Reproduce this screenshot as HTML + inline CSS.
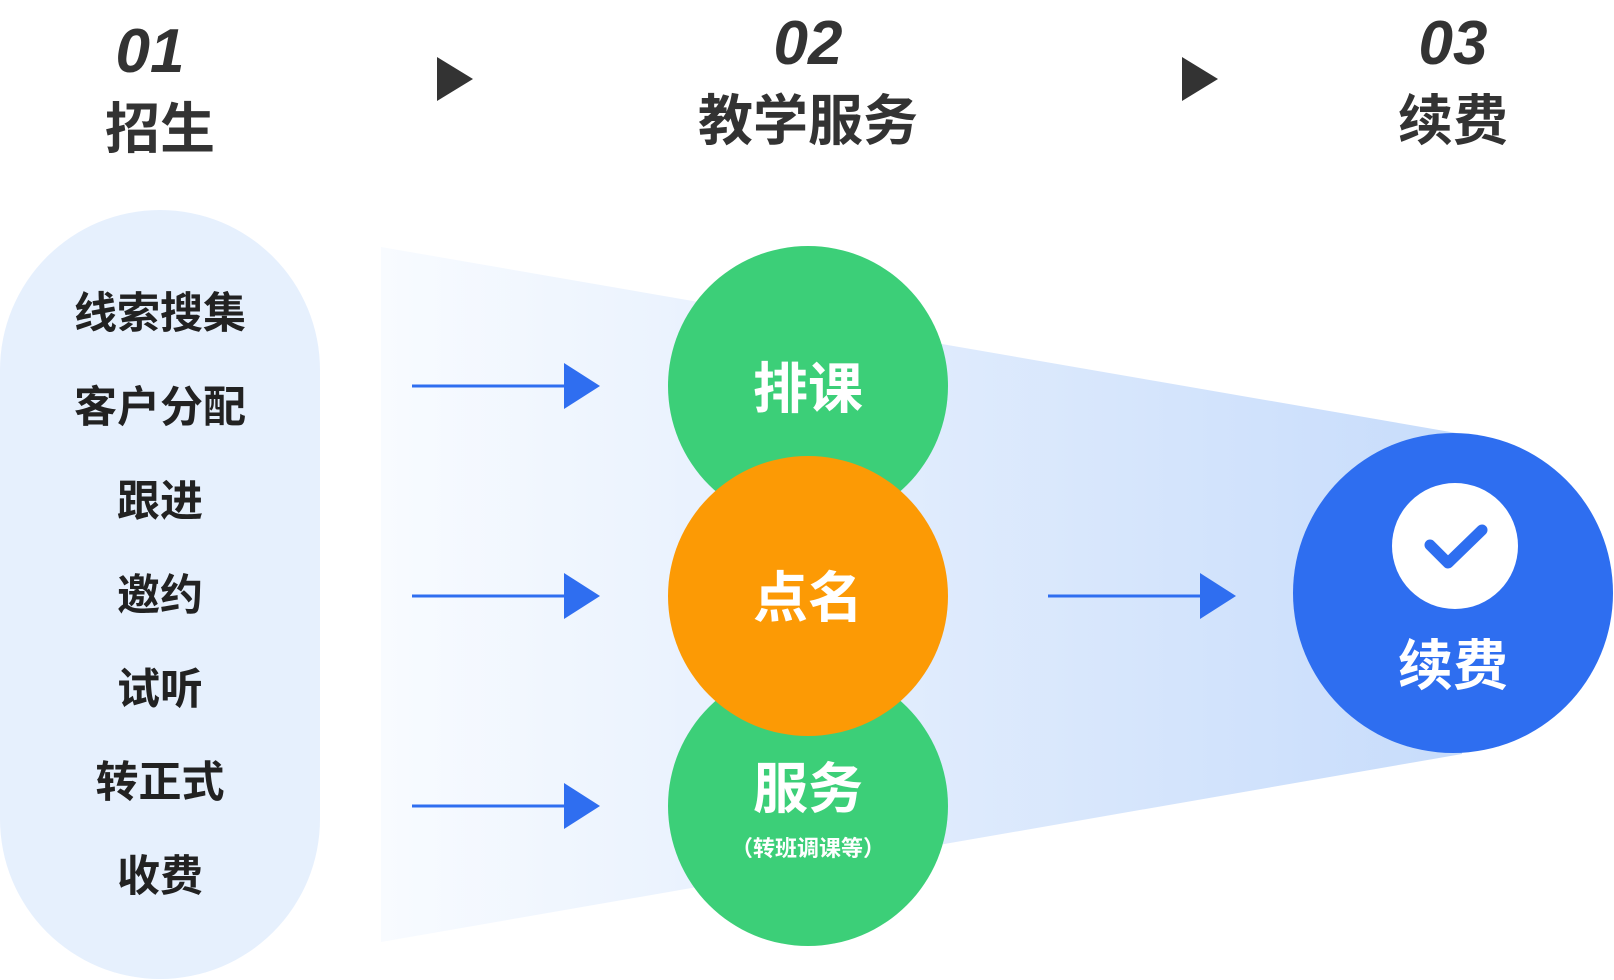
<!DOCTYPE html>
<html><head><meta charset="utf-8"><style>
html,body{margin:0;padding:0;background:#fff;}
svg{display:block;}
text{font-family:"Liberation Sans","Noto Sans CJK SC",sans-serif;}
</style></head><body>
<svg width="1614" height="980" viewBox="0 0 1614 980" xmlns="http://www.w3.org/2000/svg">
<defs>
<linearGradient id="fg" x1="0" x2="1" y1="0" y2="0">
<stop offset="0" stop-color="#f8fbff"/>
<stop offset="1" stop-color="#c7dcfb"/>
</linearGradient>
</defs>
<polygon points="381,247 1462,434 1462,754 381,942" fill="url(#fg)"/>
<rect x="0" y="210" width="320" height="769" rx="160" fill="#e6f0fd"/>
<g fill="#333" font-weight="bold" text-anchor="middle">
<text x="150" y="72" font-size="62" font-style="italic">01</text>
<text x="160" y="148" font-size="55">招生</text>
<text x="808" y="64" font-size="62" font-style="italic">02</text>
<text x="808" y="140" font-size="55">教学服务</text>
<text x="1453" y="64" font-size="62" font-style="italic">03</text>
<text x="1453" y="140" font-size="55">续费</text>
</g>
<polygon points="437,57 473,79 437,101" fill="#333"/>
<polygon points="1182,57 1218,79 1182,101" fill="#333"/>
<g fill="#222" font-weight="bold" font-size="43" text-anchor="middle">
<text x="160" y="328">线索搜集</text>
<text x="160" y="422">客户分配</text>
<text x="160" y="516">跟进</text>
<text x="160" y="610">邀约</text>
<text x="160" y="704">试听</text>
<text x="160" y="797">转正式</text>
<text x="160" y="891">收费</text>
</g>
<g fill="#2f6ef0">
<rect x="412" y="384.5" width="155" height="3"/><polygon points="564,363 600,386 564,409"/>
<rect x="412" y="594.5" width="155" height="3"/><polygon points="564,573 600,596 564,619"/>
<rect x="412" y="804.5" width="155" height="3"/><polygon points="564,783 600,806 564,829"/>
<rect x="1048" y="594.5" width="155" height="3"/><polygon points="1200,573 1236,596 1200,619"/>
</g>
<circle cx="808" cy="386" r="140" fill="#3ccf78"/>
<circle cx="808" cy="806" r="140" fill="#3ccf78"/>
<circle cx="808" cy="596" r="140" fill="#fc9a05"/>
<g fill="#fff" font-weight="bold" text-anchor="middle">
<text x="808" y="408" font-size="55">排课</text>
<text x="808" y="617" font-size="55">点名</text>
<text x="808" y="808" font-size="55">服务</text>
<text x="808" y="856" font-size="22">（转班调课等）</text>
</g>
<circle cx="1453" cy="593" r="160" fill="#2e6ef0"/>
<circle cx="1455" cy="546" r="63" fill="#fff"/>
<polyline points="1430,545 1448,563 1482,530" fill="none" stroke="#2e6ef0" stroke-width="11" stroke-linecap="round" stroke-linejoin="round"/>
<text x="1453" y="685" font-size="55" font-weight="bold" fill="#fff" text-anchor="middle">续费</text>
</svg>
</body></html>
